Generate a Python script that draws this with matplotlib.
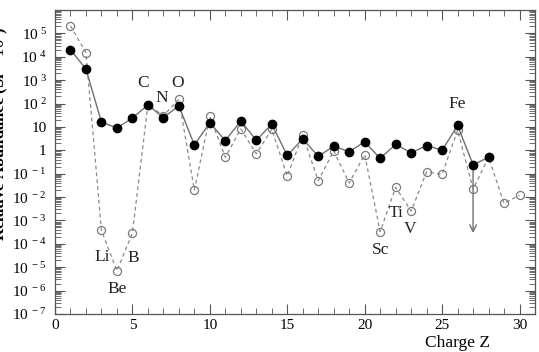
import matplotlib
matplotlib.use("Agg")
import matplotlib.pyplot as plt
from matplotlib.ticker import FixedLocator, LogLocator, NullFormatter, MultipleLocator

plt.rcParams['font.family'] = ['Liberation Serif', 'DejaVu Serif']
plt.rcParams['mathtext.fontset'] = 'custom'
plt.rcParams['mathtext.rm'] = 'Liberation Serif'
plt.rcParams['mathtext.it'] = 'Liberation Serif'

# measured (filled) and solar-system (open) abundances, Si = 10^6 scale
z_meas = list(range(1, 29))
abund_meas = [2e4, 3e3, 16, 9, 24, 87, 25, 80, 1.7, 15, 2.6, 18, 2.7, 13,
              0.6, 3.1, 0.55, 1.5, 0.87, 2.3, 0.45, 1.8, 0.78, 1.6, 1.0,
              11.5, 0.24, 0.5]
z_solar = list(range(1, 31))
abund_solar = [2.1e5, 1.5e4, 3.8e-4, 7e-6, 2.9e-4, 90, 30, 155, 0.02, 28,
               0.5, 8.3, 0.7, 8, 0.08, 4.5, 0.05, 0.95, 0.04, 0.66,
               3.3e-4, 0.026, 2.5e-3, 0.12, 0.093, 7.3, 0.022, 0.5,
               5.4e-3, 0.012]

# upper limit arrow for Co (Z=27)
limit_z = 27
limit_from = 0.24
limit_to = 2.9e-4

# element labels: name, Z position, abundance position
labels = [
    ("C", 5.69, 740), ("N", 6.92, 170), ("O", 7.9, 740),
    ("Li", 3.04, 2.7e-5), ("Be", 4.0, 1.2e-6), ("B", 5.04, 2.5e-5),
    ("Sc", 21.0, 5.5e-5), ("Ti", 22.04, 2.1e-3), ("V", 22.95, 4.3e-4),
    ("Fe", 25.98, 93),
]

ytick_vals = [10.0 ** e for e in range(-7, 6)]
ytick_text = []
for e in range(-7, 6):
    if e == 0:
        ytick_text.append('1')
    elif e == 1:
        ytick_text.append('10')
    else:
        ytick_text.append(r'$10^{\ %d}$' % e)

fig = plt.figure(figsize=(5.39, 3.52), dpi=100)
ax = fig.add_axes([0.102, 0.108, 0.8906, 0.8636])

ax.plot(z_solar, abund_solar, ls=(0, (3, 2.5)), color='#8a8a8a', lw=0.9,
        marker='o', ms=5.8, mfc='none', mec='#7a7a7a', mew=0.9, zorder=2)
ax.plot(z_meas, abund_meas, ls='-', color='#707070', lw=1.0,
        marker='o', ms=6, mfc='black', mec='black', zorder=3)

ax.annotate('', xy=(limit_z, limit_to), xytext=(limit_z, limit_from),
            arrowprops=dict(arrowstyle='->', color='#707070', lw=1.0,
                            shrinkA=0, shrinkB=0, mutation_scale=12), zorder=1)

for name, zx, yv in labels:
    ax.text(zx, yv, name, fontsize=12.5, ha='center', va='center', color='#222222')

ax.set_yscale('log')
ax.set_xlim(0, 31)
ax.set_ylim(1e-7, 1e6)

ax.xaxis.set_major_locator(MultipleLocator(5))
ax.xaxis.set_minor_locator(MultipleLocator(1))
ax.yaxis.set_major_locator(FixedLocator(ytick_vals))
ax.set_yticklabels(ytick_text)
ax.yaxis.set_minor_locator(LogLocator(base=10, subs=range(2, 10), numticks=30))
ax.yaxis.set_minor_formatter(NullFormatter())

ax.tick_params(which='both', direction='in', top=True, right=True,
               color='#555555', labelsize=11)
ax.tick_params(which='major', length=7, width=0.8)
ax.tick_params(which='minor', length=4, width=0.6)
ax.tick_params(axis='y', pad=6)
for s in ax.spines.values():
    s.set_color('#555555')
    s.set_linewidth(0.9)

fig.text(0.848, 0.025, 'Charge Z', fontsize=12.5, ha='center', va='center')
fig.text(0.0, 0.62, r'Relative Abundance (Si = $10^6$)', fontsize=12,
         rotation=90, ha='center', va='center', fontweight='bold')

fig.savefig('out.png', dpi=100)
